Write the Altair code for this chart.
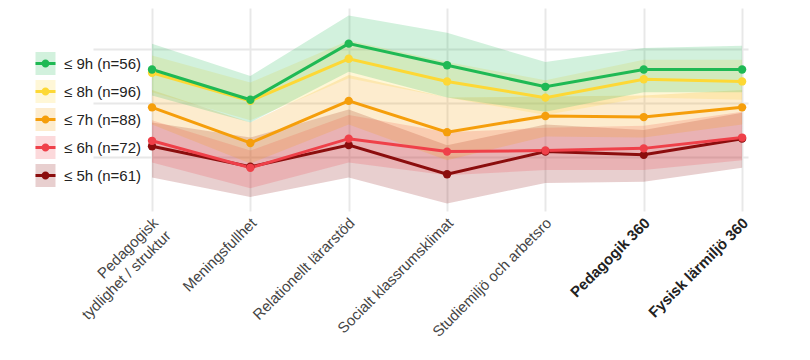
import json
import altair as alt
import pandas as pd

categories = [
    "Pedagogisk\ntydlighet / struktur",
    "Meningsfullhet",
    "Relationellt lärarstöd",
    "Socialt klassrumsklimat",
    "Studiemiljö och arbetsro",
    "Pedagogik 360",
    "Fysisk lärmiljö 360",
]
series = ["≤ 9h (n=56)", "≤ 8h (n=96)", "≤ 7h (n=88)", "≤ 6h (n=72)", "≤ 5h (n=61)"]
colors = ["#1fb954", "#fdd835", "#f59e0b", "#ef4049", "#8b0d0d"]

mean_9h = [3.81, 3.53, 4.05, 3.85, 3.65, 3.81, 3.81]
lo_9h = [3.57, 3.32, 3.79, 3.55, 3.42, 3.60, 3.60]
hi_9h = [4.05, 3.75, 4.31, 4.15, 3.88, 4.01, 4.03]

mean_8h = [3.78, 3.52, 3.91, 3.70, 3.55, 3.72, 3.70]
lo_8h = [3.60, 3.34, 3.73, 3.55, 3.39, 3.55, 3.53]
hi_8h = [3.94, 3.69, 4.08, 3.88, 3.71, 3.90, 3.90]

mean_7h = [3.46, 3.13, 3.52, 3.23, 3.38, 3.37, 3.46]
lo_7h = [3.30, 2.94, 3.30, 2.97, 3.19, 3.18, 3.30]
hi_7h = [3.62, 3.32, 3.76, 3.55, 3.56, 3.57, 3.62]

mean_6h = [3.15, 2.90, 3.17, 3.05, 3.06, 3.08, 3.18]
lo_6h = [2.95, 2.71, 2.95, 2.83, 2.88, 2.88, 2.97]
hi_6h = [3.34, 3.06, 3.39, 3.23, 3.27, 3.29, 3.42]

mean_5h = [3.10, 2.91, 3.11, 2.84, 3.05, 3.02, 3.17]
lo_5h = [2.81, 2.63, 2.81, 2.57, 2.76, 2.77, 2.90]
hi_5h = [3.32, 3.18, 3.44, 3.11, 3.30, 3.25, 3.41]

y_grid = [3.0, 3.5, 4.0]

means = [mean_9h, mean_8h, mean_7h, mean_6h, mean_5h]
los = [lo_9h, lo_8h, lo_7h, lo_6h, lo_5h]
his = [hi_9h, hi_8h, hi_7h, hi_6h, hi_5h]

rows = []
# draw the lowest group first so the upper groups lie on top
for s in reversed(range(len(series))):
    for i, cat in enumerate(categories):
        rows.append({"idx": i, "kategori": cat, "serie": series[s], "serie_p": series[s],
                     "mean": means[s][i], "lo": los[s][i], "hi": his[s][i]})
df = pd.DataFrame(rows)

FONT = "Liberation Sans, Arial, sans-serif"
n = len(categories)
label_expr = "split(" + json.dumps(categories) + "[datum.value], '\\n')"

xaxis = alt.Axis(
    values=list(range(n)), grid=True, ticks=False, domain=False, title=None,
    labelExpr=label_expr, labelAngle=315, labelAlign="right", labelBaseline="middle",
    labelFontSize=15, labelPadding=9, labelOffset=3, labelFont=FONT, labelOverlap=False,
    labelFontWeight=alt.condition(f"datum.value >= {n - 2}", alt.value("bold"), alt.value("normal")),
    labelColor=alt.condition(f"datum.value >= {n - 2}", alt.value("#222222"), alt.value("#444444")),
    labelLineHeight=18, labelLimit=300,
)
yaxis = alt.Axis(values=y_grid, labels=False, ticks=False, domain=False, title=None, grid=True)

xscale = alt.Scale(domain=[-0.6, 6.06], nice=False, zero=False)
yscale = alt.Scale(domain=[2.5, 4.38], nice=False, zero=False)

leg = dict(orient="none", legendX=-59, legendY=44, title=None, direction="vertical",
           symbolSize=529, rowPadding=5, labelFontSize=15, labelOffset=7, padding=0,
           labelFont=FONT, labelColor="#222222", labelLimit=300, symbolStrokeWidth=0)

# legend glyphs: a pale band swatch, and a line segment with a dot on it
swatch = "M-0.87,-1H0.87V1H-0.87Z"
line_dot = ("M0,-1M0,1"
            "M-0.87,-0.13H0.87V0.13H-0.87Z"
            "M0.35,0A0.35,0.35,0,1,1,-0.35,0A0.35,0.35,0,1,1,0.35,0Z")

base = alt.Chart(df).encode(x=alt.X("idx:Q", scale=xscale, axis=xaxis))

area = base.mark_area(opacity=0.2).encode(
    y=alt.Y("lo:Q", scale=yscale, axis=yaxis),
    y2="hi:Q",
    color=alt.Color("serie:N", scale=alt.Scale(domain=series, range=colors), legend=alt.Legend(
        symbolType=swatch, symbolOpacity=0.2, labelExpr="''", **leg)),
)

line = base.mark_line(strokeWidth=3).encode(
    y=alt.Y("mean:Q", scale=yscale),
    stroke=alt.Stroke("serie:N", sort="descending", scale=alt.Scale(range=colors), legend=None),
)

points = base.mark_circle(size=70, opacity=1).encode(
    y=alt.Y("mean:Q", scale=yscale),
    fill=alt.Fill("serie_p:N", sort="descending", scale=alt.Scale(range=colors), legend=alt.Legend(
        symbolType=line_dot, symbolOpacity=1, **leg)),
)

chart = alt.layer(area, line, points).properties(
    width=655, height=203,
    autosize=alt.AutoSizeParams(type="none"),
    padding={"left": 85, "top": 0, "right": 54, "bottom": 141},
    background="white",
).configure_view(stroke=None).configure_axis(
    gridColor="#e8e8e8", gridWidth=2
)

chart.save("out.html", embed_options={"renderer": "svg", "actions": False})
